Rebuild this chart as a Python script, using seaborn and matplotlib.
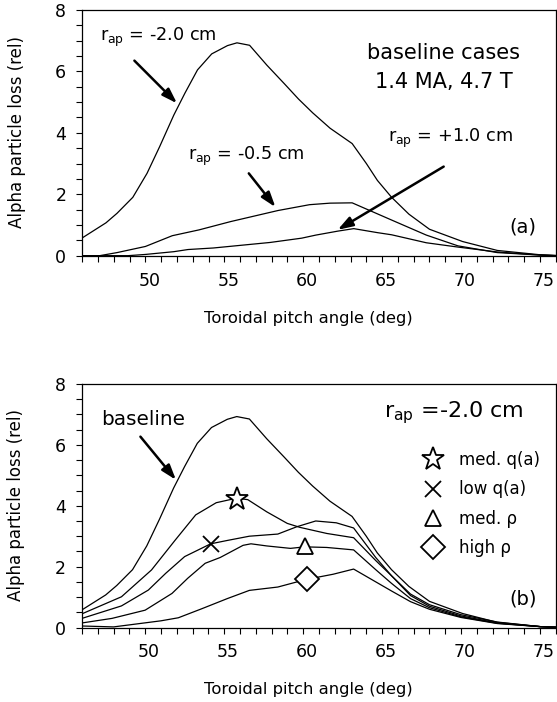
import numpy as np
import pandas as pd
import matplotlib
matplotlib.use("Agg")
import matplotlib.pyplot as plt
import matplotlib.transforms as mtransforms
from matplotlib.lines import Line2D
import seaborn as sns

# ---------------- data ----------------
# panel (a) / baseline, r_ap = -2.0 cm
x_m20 = [46.0, 47.5, 48.2, 49.2, 50.1, 50.9, 51.8, 52.5, 53.3, 54.2, 55.2, 55.8, 56.6,
         57.7, 58.8, 59.7, 60.6, 61.7, 63.1, 64.0, 64.7, 65.6, 66.7, 68.0, 70.1, 72.3, 75.0, 76.0]
y_m20 = [0.58, 1.07, 1.38, 1.9, 2.68, 3.55, 4.58, 5.29, 6.05, 6.57, 6.84, 6.93, 6.85,
         6.2, 5.6, 5.1, 4.65, 4.15, 3.65, 3.0, 2.45, 1.9, 1.35, 0.86, 0.46, 0.17, 0.03, 0.01]

# r_ap = -0.5 cm
x_m05 = [46.0, 47.1, 48.2, 50.0, 51.7, 53.4, 55.4, 58.4, 60.4, 61.7, 63.1, 65.6, 67.8, 69.8, 72.3, 75.0, 76.0]
y_m05 = [0.0, 0.0, 0.1, 0.3, 0.65, 0.84, 1.11, 1.47, 1.66, 1.71, 1.72, 1.16, 0.67, 0.32, 0.1, 0.02, 0.0]

# r_ap = +1.0 cm
x_p10 = [46.0, 48.9, 50.0, 51.8, 52.7, 54.3, 57.9, 59.9, 60.8, 62.2, 63.2, 64.7, 65.6, 67.8, 69.8, 72.3, 75.0, 76.0]
y_p10 = [0.0, 0.0, 0.04, 0.13, 0.2, 0.25, 0.43, 0.57, 0.67, 0.8, 0.88, 0.75, 0.68, 0.42, 0.28, 0.12, 0.02, 0.0]

# panel (b) variants (r_ap = -2.0 cm)
x_medq = [46.0, 48.5, 50.4, 51.9, 53.2, 54.5, 55.8, 56.5, 57.7, 59.0, 59.8, 61.5, 63.2,
          64.6, 65.6, 66.8, 68.0, 70.0, 72.3, 75.0, 76.0]
y_medq = [0.45, 1.01, 1.89, 2.87, 3.7, 4.1, 4.25, 4.2, 3.8, 3.42, 3.29, 3.09, 2.95,
          2.2, 1.7, 1.1, 0.75, 0.42, 0.18, 0.03, 0.01]

x_lowq = [46.0, 48.5, 50.2, 51.3, 52.5, 54.15, 55.2, 56.6, 58.4, 59.6, 60.8, 62.1, 63.2,
          64.6, 65.6, 66.8, 68.0, 70.0, 72.3, 75.0, 76.0]
y_lowq = [0.3, 0.71, 1.23, 1.78, 2.33, 2.75, 2.86, 3.0, 3.07, 3.31, 3.5, 3.44, 3.27,
          2.3, 1.7, 1.05, 0.7, 0.38, 0.15, 0.03, 0.01]

x_medr = [46.0, 47.9, 50.0, 51.7, 52.7, 53.8, 54.75, 56.2, 56.7, 57.7, 59.2, 60.1, 61.5, 63.2,
          64.6, 65.6, 66.8, 68.0, 70.0, 72.3, 75.0, 76.0]
y_medr = [0.15, 0.3, 0.57, 1.12, 1.62, 2.11, 2.3, 2.7, 2.75, 2.68, 2.6, 2.65, 2.63, 2.55,
          1.9, 1.45, 0.95, 0.65, 0.35, 0.14, 0.03, 0.01]

x_highr = [46.0, 48.0, 49.5, 51.0, 52.1, 53.6, 55.2, 56.6, 58.4, 60.2, 61.9, 63.2,
           64.6, 65.6, 66.8, 68.0, 70.0, 72.3, 75.0, 76.0]
y_highr = [0.05, 0.02, 0.12, 0.22, 0.32, 0.62, 0.95, 1.22, 1.33, 1.58, 1.75, 1.92,
           1.5, 1.2, 0.85, 0.6, 0.33, 0.13, 0.03, 0.01]

# marker points on the (b) curves
mk_labels = ["med. q(a)", "low q(a)", "med. \u03c1", "high \u03c1"]
mk_x = [55.8, 54.15, 60.1, 60.25]
mk_y = [4.22, 2.75, 2.68, 1.58]
mk_shapes = ["*", "x", "^", "D"]

x_ticks = [50, 55, 60, 65, 70, 75]
y_ticks = [0, 2, 4, 6, 8]

# ---------------- style ----------------
sns.set_style("ticks")
plt.rcParams["font.family"] = ["DejaVu Sans"]
plt.rcParams["mathtext.fontset"] = "dejavusans"
plt.rcParams["text.color"] = "black"
plt.rcParams["axes.labelcolor"] = "black"
plt.rcParams["xtick.color"] = "black"
plt.rcParams["ytick.color"] = "black"
plt.rcParams["axes.edgecolor"] = "black"

fig = plt.figure(figsize=(5.57, 7.02), dpi=100)
ax1 = fig.add_axes([0.1478, 0.6358, 0.8499, 0.350])
ax2 = fig.add_axes([0.1472, 0.1061, 0.8506, 0.3469])

lw = 0.9

def draw(ax, xs, ys):
    df = pd.DataFrame({"x": xs, "y": ys})
    sns.lineplot(data=df, x="x", y="y", ax=ax, color="black", lw=lw,
                 sort=False, estimator=None)

for xs, ys in [(x_m20, y_m20), (x_m05, y_m05), (x_p10, y_p10)]:
    draw(ax1, xs, ys)
for xs, ys in [(x_m20, y_m20), (x_medq, y_medq), (x_lowq, y_lowq), (x_medr, y_medr), (x_highr, y_highr)]:
    draw(ax2, xs, ys)

msizes = [17, 11, 12, 12]
for xv, yv, m, s in zip(mk_x, mk_y, mk_shapes, msizes):
    ax2.plot([xv], [yv], marker=m, ms=s, mfc="white" if m != "x" else "black",
             mec="black", mew=1.3, ls="none", zorder=5)

for ax in (ax1, ax2):
    ax.set_xlim(46, 76)
    ax.set_ylim(0, 8)
    ax.set_xticks(x_ticks)
    ax.set_yticks(y_ticks)
    ax.set_xticks(np.arange(46, 77, 1), minor=True)
    ax.set_yticks(np.arange(0, 8.01, 0.5), minor=True)
    ax.tick_params(axis="both", which="both", direction="out", length=4.5, width=0.8,
                   labelsize=12.5, color="black", labelcolor="black")
    ax.tick_params(axis="y", which="major", pad=7)
    ax.tick_params(axis="x", which="major", pad=7)
    for sp in ax.spines.values():
        sp.set_visible(True)
        sp.set_linewidth(0.9)
        sp.set_color("black")
    ax.set_xlabel("Toroidal pitch angle (deg)", fontsize=11.8, color="black")
    ax.set_ylabel("Alpha particle loss (rel)", fontsize=12.0, color="black")
    ax.yaxis.set_label_coords(-0.12, 0.505)
    ax.xaxis.set_label_coords(0.477, -0.225)
    offset = mtransforms.ScaledTranslation(4 / 100, 0, fig.dpi_scale_trans)
    for lab in ax.get_xticklabels():
        lab.set_transform(lab.get_transform() + offset)

# ---- panel (a) annotations ----
ap = dict(arrowstyle="-|>,head_length=0.9,head_width=0.3", color="black", lw=1.8,
          shrinkA=0, shrinkB=0)
ax1.text(47.1, 7.1, r"r$_{\rm ap}$ = -2.0 cm", fontsize=12.7, va="center", ha="left")
ax1.annotate("", xy=(52.0, 4.96), xytext=(49.3, 6.35), arrowprops=ap)
ax1.text(52.7, 3.22, r"r$_{\rm ap}$ = -0.5 cm", fontsize=12.7, va="center", ha="left")
ax1.annotate("", xy=(58.24, 1.58), xytext=(56.55, 2.68), arrowprops=ap)
ax1.text(65.4, 3.82, r"r$_{\rm ap}$ = +1.0 cm", fontsize=12.7, va="center", ha="left")
ax1.annotate("", xy=(62.18, 0.84), xytext=(68.9, 2.9), arrowprops=ap)
ax1.text(68.9, 6.6, "baseline cases", fontsize=15, ha="center", va="center")
ax1.text(68.9, 5.67, "1.4 MA, 4.7 T", fontsize=15, ha="center", va="center")
ax1.text(73.95, 0.94, "(a)", fontsize=14, ha="center", va="center")

# ---- panel (b) annotations ----
ax2.text(47.2, 6.82, "baseline", fontsize=14.4, ha="left", va="center")
ax2.annotate("", xy=(51.95, 4.85), xytext=(49.7, 6.27), arrowprops=ap)
ax2.text(65.1, 7.05, r"r$_{\rm ap}$ =-2.0 cm", fontsize=16, ha="left", va="center")
ax2.text(73.95, 0.93, "(b)", fontsize=14, ha="center", va="center")

handles = []
for m, s in zip(mk_shapes, msizes):
    handles.append(Line2D([], [], marker=m, ms=s, mfc="white" if m != "x" else "black",
                          mec="black", mew=1.3, ls="none"))
leg = ax2.legend(handles, mk_labels, loc="upper left", bbox_to_anchor=(0.705, 0.752),
                 frameon=False, fontsize=12, handlelength=1.2, handletextpad=1.0,
                 labelspacing=0.68, borderaxespad=0, labelcolor="black")

fig.savefig("out.png", dpi=100)
